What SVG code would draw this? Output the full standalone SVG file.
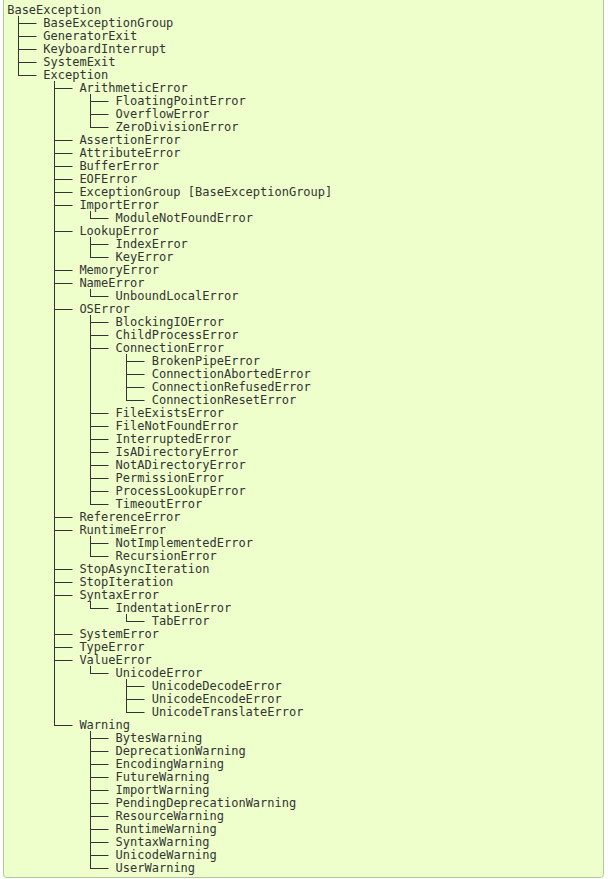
<svg xmlns="http://www.w3.org/2000/svg" width="608" height="879" viewBox="0 0 608 879">
<style>
.t{font-family:"DejaVu Sans Mono","Liberation Mono",monospace;font-size:12px;fill:#333}
.c{fill:none;stroke:#333;stroke-width:1}
</style>
<rect x="3.5" y="-20" width="600" height="897.5" rx="3" fill="#eeffcc" stroke="#aacc99" stroke-width="1"/>
<g id="connectors" class="c">
<path d="M18.5 16V76M54.5 81V726M90.5 94V128M90.5 211V219M90.5 237V258M90.5 289V297M90.5 315V505M126.5 354V401M90.5 536V557M90.5 601V609M126.5 614V622M90.5 666V674M126.5 679V713M90.5 731V869"/>
<path d="M18 23.5H36.5M18 36.5H36.5M18 49.5H36.5M18 62.5H36.5M18 75.5H36.5"/>
<path d="M54 88.5H72.5M54 140.5H72.5M54 153.5H72.5M54 166.5H72.5M54 179.5H72.5M54 192.5H72.5M54 205.5H72.5M54 231.5H72.5M54 270.5H72.5M54 283.5H72.5M54 309.5H72.5M54 517.5H72.5M54 530.5H72.5M54 569.5H72.5M54 582.5H72.5M54 595.5H72.5M54 634.5H72.5M54 647.5H72.5M54 660.5H72.5M54 725.5H72.5"/>
<path d="M90 101.5H108.5M90 114.5H108.5M90 127.5H108.5M90 218.5H108.5M90 244.5H108.5M90 257.5H108.5M90 296.5H108.5M90 322.5H108.5M90 335.5H108.5M90 348.5H108.5M90 413.5H108.5M90 426.5H108.5M90 439.5H108.5M90 452.5H108.5M90 465.5H108.5M90 478.5H108.5M90 491.5H108.5M90 504.5H108.5M90 543.5H108.5M90 556.5H108.5M90 608.5H108.5M90 673.5H108.5M90 738.5H108.5M90 751.5H108.5M90 764.5H108.5M90 777.5H108.5M90 790.5H108.5M90 803.5H108.5M90 816.5H108.5M90 829.5H108.5M90 842.5H108.5M90 855.5H108.5M90 868.5H108.5"/>
<path d="M126 361.5H144.5M126 374.5H144.5M126 387.5H144.5M126 400.5H144.5M126 621.5H144.5M126 686.5H144.5M126 699.5H144.5M126 712.5H144.5"/>
</g>
<g id="nodes" class="t">
<g id="n-BaseException"><text x="7.2" y="14">BaseException</text></g>
<g id="n-BaseExceptionGroup"><text x="43.3" y="27">BaseExceptionGroup</text></g>
<g id="n-GeneratorExit"><text x="43.3" y="40">GeneratorExit</text></g>
<g id="n-KeyboardInterrupt"><text x="43.3" y="53">KeyboardInterrupt</text></g>
<g id="n-SystemExit"><text x="43.3" y="66">SystemExit</text></g>
<g id="n-Exception"><text x="43.3" y="79">Exception</text></g>
<g id="n-ArithmeticError"><text x="79.4" y="92">ArithmeticError</text></g>
<g id="n-FloatingPointError"><text x="115.6" y="105">FloatingPointError</text></g>
<g id="n-OverflowError"><text x="115.6" y="118">OverflowError</text></g>
<g id="n-ZeroDivisionError"><text x="115.6" y="131">ZeroDivisionError</text></g>
<g id="n-AssertionError"><text x="79.4" y="144">AssertionError</text></g>
<g id="n-AttributeError"><text x="79.4" y="157">AttributeError</text></g>
<g id="n-BufferError"><text x="79.4" y="170">BufferError</text></g>
<g id="n-EOFError"><text x="79.4" y="183">EOFError</text></g>
<g id="n-ExceptionGroup"><text x="79.4" y="196">ExceptionGroup [BaseExceptionGroup]</text></g>
<g id="n-ImportError"><text x="79.4" y="209">ImportError</text></g>
<g id="n-ModuleNotFoundError"><text x="115.6" y="222">ModuleNotFoundError</text></g>
<g id="n-LookupError"><text x="79.4" y="235">LookupError</text></g>
<g id="n-IndexError"><text x="115.6" y="248">IndexError</text></g>
<g id="n-KeyError"><text x="115.6" y="261">KeyError</text></g>
<g id="n-MemoryError"><text x="79.4" y="274">MemoryError</text></g>
<g id="n-NameError"><text x="79.4" y="287">NameError</text></g>
<g id="n-UnboundLocalError"><text x="115.6" y="300">UnboundLocalError</text></g>
<g id="n-OSError"><text x="79.4" y="313">OSError</text></g>
<g id="n-BlockingIOError"><text x="115.6" y="326">BlockingIOError</text></g>
<g id="n-ChildProcessError"><text x="115.6" y="339">ChildProcessError</text></g>
<g id="n-ConnectionError"><text x="115.6" y="352">ConnectionError</text></g>
<g id="n-BrokenPipeError"><text x="151.7" y="365">BrokenPipeError</text></g>
<g id="n-ConnectionAbortedError"><text x="151.7" y="378">ConnectionAbortedError</text></g>
<g id="n-ConnectionRefusedError"><text x="151.7" y="391">ConnectionRefusedError</text></g>
<g id="n-ConnectionResetError"><text x="151.7" y="404">ConnectionResetError</text></g>
<g id="n-FileExistsError"><text x="115.6" y="417">FileExistsError</text></g>
<g id="n-FileNotFoundError"><text x="115.6" y="430">FileNotFoundError</text></g>
<g id="n-InterruptedError"><text x="115.6" y="443">InterruptedError</text></g>
<g id="n-IsADirectoryError"><text x="115.6" y="456">IsADirectoryError</text></g>
<g id="n-NotADirectoryError"><text x="115.6" y="469">NotADirectoryError</text></g>
<g id="n-PermissionError"><text x="115.6" y="482">PermissionError</text></g>
<g id="n-ProcessLookupError"><text x="115.6" y="495">ProcessLookupError</text></g>
<g id="n-TimeoutError"><text x="115.6" y="508">TimeoutError</text></g>
<g id="n-ReferenceError"><text x="79.4" y="521">ReferenceError</text></g>
<g id="n-RuntimeError"><text x="79.4" y="534">RuntimeError</text></g>
<g id="n-NotImplementedError"><text x="115.6" y="547">NotImplementedError</text></g>
<g id="n-RecursionError"><text x="115.6" y="560">RecursionError</text></g>
<g id="n-StopAsyncIteration"><text x="79.4" y="573">StopAsyncIteration</text></g>
<g id="n-StopIteration"><text x="79.4" y="586">StopIteration</text></g>
<g id="n-SyntaxError"><text x="79.4" y="599">SyntaxError</text></g>
<g id="n-IndentationError"><text x="115.6" y="612">IndentationError</text></g>
<g id="n-TabError"><text x="151.7" y="625">TabError</text></g>
<g id="n-SystemError"><text x="79.4" y="638">SystemError</text></g>
<g id="n-TypeError"><text x="79.4" y="651">TypeError</text></g>
<g id="n-ValueError"><text x="79.4" y="664">ValueError</text></g>
<g id="n-UnicodeError"><text x="115.6" y="677">UnicodeError</text></g>
<g id="n-UnicodeDecodeError"><text x="151.7" y="690">UnicodeDecodeError</text></g>
<g id="n-UnicodeEncodeError"><text x="151.7" y="703">UnicodeEncodeError</text></g>
<g id="n-UnicodeTranslateError"><text x="151.7" y="716">UnicodeTranslateError</text></g>
<g id="n-Warning"><text x="79.4" y="729">Warning</text></g>
<g id="n-BytesWarning"><text x="115.6" y="742">BytesWarning</text></g>
<g id="n-DeprecationWarning"><text x="115.6" y="755">DeprecationWarning</text></g>
<g id="n-EncodingWarning"><text x="115.6" y="768">EncodingWarning</text></g>
<g id="n-FutureWarning"><text x="115.6" y="781">FutureWarning</text></g>
<g id="n-ImportWarning"><text x="115.6" y="794">ImportWarning</text></g>
<g id="n-PendingDeprecationWarning"><text x="115.6" y="807">PendingDeprecationWarning</text></g>
<g id="n-ResourceWarning"><text x="115.6" y="820">ResourceWarning</text></g>
<g id="n-RuntimeWarning"><text x="115.6" y="833">RuntimeWarning</text></g>
<g id="n-SyntaxWarning"><text x="115.6" y="846">SyntaxWarning</text></g>
<g id="n-UnicodeWarning"><text x="115.6" y="859">UnicodeWarning</text></g>
<g id="n-UserWarning"><text x="115.6" y="872">UserWarning</text></g>
</g>
</svg>
